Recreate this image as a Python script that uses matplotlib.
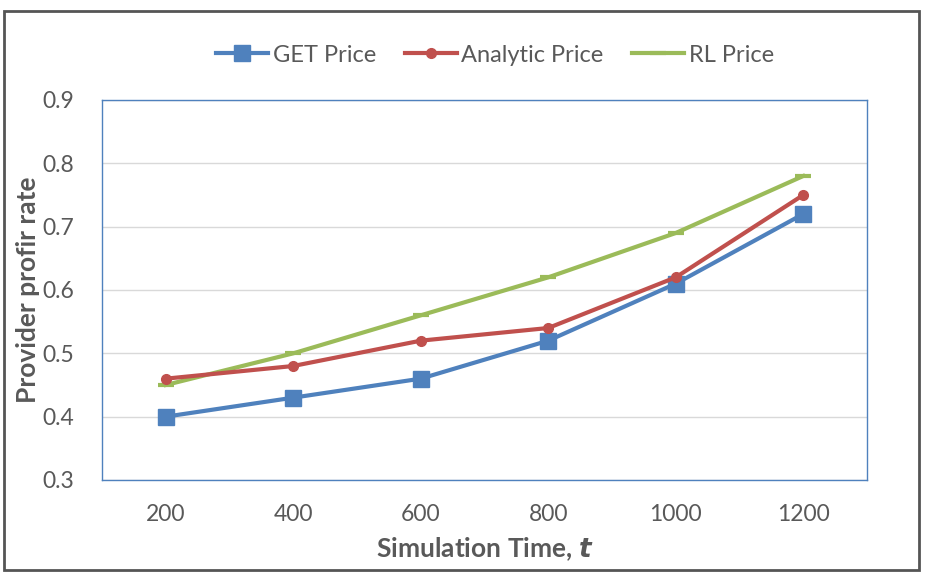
import matplotlib
matplotlib.use("Agg")
import matplotlib.pyplot as plt
from matplotlib.patches import Rectangle

categories = ["200", "400", "600", "800", "1000", "1200"]
get_price = [0.40, 0.43, 0.46, 0.52, 0.61, 0.72]
analytic_price = [0.46, 0.48, 0.52, 0.54, 0.62, 0.75]
rl_price = [0.45, 0.50, 0.56, 0.62, 0.69, 0.78]
yticks = [0.3, 0.4, 0.5, 0.6, 0.7, 0.8, 0.9]

plt.rcParams['font.family'] = ['Lato', 'DejaVu Sans']

fig = plt.figure(figsize=(9.39, 5.75), dpi=100)
ax = fig.add_axes([102/939, 1-480/575, 765/939, 380/575])

x = list(range(len(categories)))
ax.plot(x, get_price, color='#4F81BD', lw=3, marker='s', ms=12, label='GET Price', zorder=3)
ax.plot(x, analytic_price, color='#C0504D', lw=3, marker='o', ms=7, label='Analytic Price', zorder=4)
ax.plot(x, rl_price, color='#9BBB59', lw=3, marker='_', ms=12, mew=3, label='RL Price', zorder=2)

ax.set_xlim(-0.5, 5.5)
ax.set_ylim(0.3, 0.9)
ax.set_xticks(x)
ax.set_xticklabels(categories)
ax.set_yticks(yticks)
ax.set_yticklabels([f"{v:.1f}" for v in yticks])
ax.tick_params(axis='both', length=0, labelsize=16.5, colors='#595959')
ax.tick_params(axis='x', pad=17)
ax.tick_params(axis='y', pad=20)
ax.grid(axis='y', color='#D9D9D9', lw=1)
ax.set_axisbelow(True)
for s in ax.spines.values():
    s.set_color('#4F81BD')
    s.set_linewidth(1)

ax.set_xlabel('Simulation Time, $\\mathbfit{t}$', fontsize=19, fontweight='bold', color='#595959', labelpad=8)
ax.set_ylabel('Provider profir rate', fontsize=19, fontweight='bold', color='#595959', labelpad=2)

leg = fig.legend(loc='center', bbox_to_anchor=(495/939, 1-55/575), ncol=3, frameon=False,
                 fontsize=17, handlelength=2.2, columnspacing=1.2, handletextpad=0.2, labelcolor='#595959')

fig.add_artist(Rectangle((4/939, 1-570/575), 915/939, 559/575, transform=fig.transFigure,
                         fill=False, edgecolor='#555555', lw=2))

fig.savefig('out.png', dpi=100)
